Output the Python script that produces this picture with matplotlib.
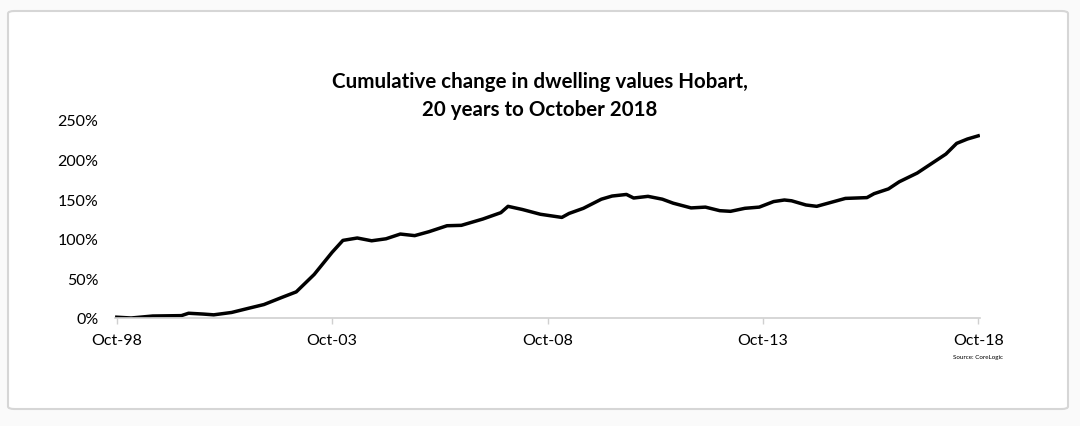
import matplotlib.pyplot as plt
from matplotlib.patches import FancyBboxPatch
from matplotlib.ticker import FuncFormatter

# months elapsed since Oct-98, and cumulative change (%)
meses = [0, 4, 10, 18, 20, 24, 27, 32, 37, 41, 46, 50, 55, 60, 63, 67, 71, 75, 79,
         83, 87, 92, 96, 102, 107, 109, 113, 118, 124, 126, 130, 135, 138, 142, 144,
         148, 152, 155, 160, 164, 168, 171, 175, 179, 183, 186, 188, 192, 195, 199,
         203, 209, 211, 215, 218, 223, 227, 231, 234, 237, 240]
cambio = [1, 0, 2.5, 3, 6, 5, 4, 7, 12.6, 17, 26, 33, 55, 83, 98, 101, 97.5, 100, 106,
          104, 109, 116.5, 117, 125, 133, 141, 137, 131, 127, 132, 138.5, 150, 154, 156, 151.5,
          153.6, 150, 145, 139, 140, 135.5, 134.7, 138.5, 140, 147, 149, 148, 142.7, 141, 146,
          151, 152, 157, 163, 172, 183, 195, 207, 220.5, 226, 230]

posiciones_ticks = [0, 60, 120, 180, 240]
etiquetas_x = ['Oct-98', 'Oct-03', 'Oct-08', 'Oct-13', 'Oct-18']
valores_y = [0, 50, 100, 150, 200, 250]

plt.rcParams['font.family'] = ['Lato', 'DejaVu Sans']

fig = plt.figure(figsize=(10.8, 4.27), dpi=100)
fig.patch.set_facecolor('#fafafa')

# Marco redondeado alrededor del grafico (detras de los ejes)
marco = FancyBboxPatch((8 / 1080, 1 - 410 / 427), 1060 / 1080, 398 / 427,
                       boxstyle='round,pad=0,rounding_size=0.006',
                       transform=fig.transFigure, facecolor='white',
                       edgecolor='#d6d6d6', linewidth=1.5, zorder=-5)
fig.add_artist(marco)

ax = fig.add_axes([115 / 1080, 1 - 319 / 427, 865 / 1080, 198 / 427])
ax.set_zorder(2)
ax.set_facecolor('none')
ax.plot(meses, cambio, color='black', lw=2.5, solid_joinstyle='round')

ax.set_xlim(-0.5, 240.5)
ax.set_ylim(0, 250)
ax.set_xticks(posiciones_ticks)
ax.set_xticklabels(etiquetas_x)
ax.set_yticks(valores_y)
ax.yaxis.set_major_formatter(FuncFormatter(lambda v, p: f'{int(v)}%'))

for lado in ['top', 'right', 'left']:
    ax.spines[lado].set_visible(False)
ax.spines['bottom'].set_color('#d0d0d0')
ax.spines['bottom'].set_linewidth(1.2)

ax.tick_params(axis='y', length=0, pad=12, labelsize=11.5, colors='black')
ax.tick_params(axis='x', length=4, width=1, color='#d0d0d0', pad=7,
               labelsize=11.5, labelcolor='black')

fig.text(0.5, 1 - 82 / 427, 'Cumulative change in dwelling values Hobart,',
         ha='center', va='center', fontsize=14.8, fontweight='bold')
fig.text(0.5, 1 - 110 / 427, '20 years to October 2018',
         ha='center', va='center', fontsize=14.8, fontweight='bold')
fig.text(1003 / 1080, 1 - 358 / 427, 'Source: CoreLogic',
         ha='right', va='center', fontsize=4.5)

fig.savefig('out.png', dpi=100, facecolor=fig.get_facecolor())
